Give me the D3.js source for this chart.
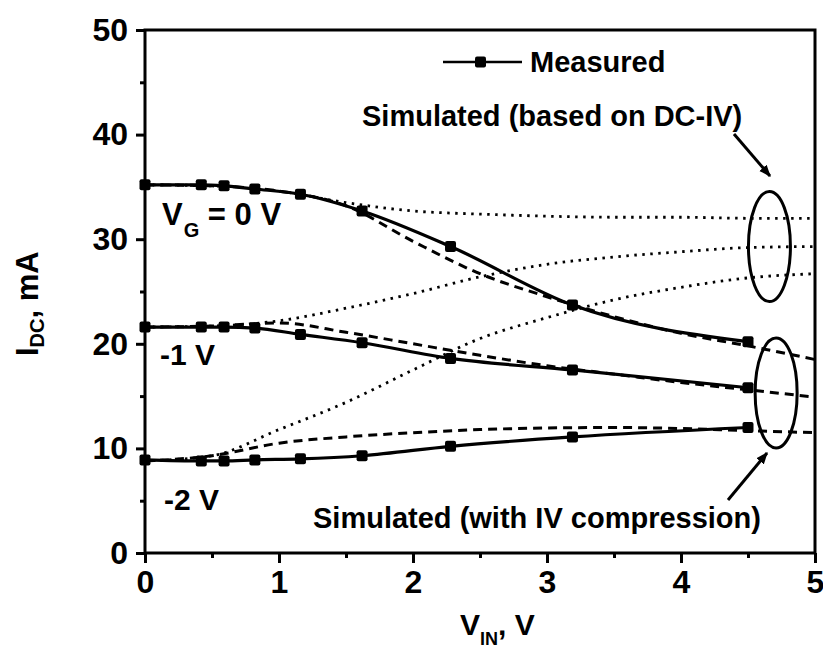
<!DOCTYPE html>
<html>
<head>
<meta charset="utf-8">
<script src="https://cdn.jsdelivr.net/npm/d3@7"></script>
<style>
body { margin: 0; background: #fff; }
svg { font-family: "Liberation Sans", Arial, sans-serif; font-weight: bold; }
</style>
</head>
<body>
<svg id="chart" width="823" height="651"></svg>
<script>
// measured points
const vin = [0, 0.42, 0.59, 0.82, 1.16, 1.62, 2.28, 3.19, 4.5]
const meas0 = [35.2, 35.2, 35.1, 34.8, 34.3, 32.7, 29.3, 23.7, 20.2]
const meas1 = [21.6, 21.6, 21.6, 21.5, 20.9, 20.1, 18.6, 17.5, 15.8]
const meas2 = [8.9, 8.8, 8.8, 8.9, 9.0, 9.3, 10.2, 11.1, 12.0]

// simulated curves
const simX = [0, 0.5, 1.0, 1.5, 2.0, 2.5, 3.0, 3.5, 4.0, 4.5, 5.0]
const dc0 = [35.2, 35.1, 34.6, 33.5, 32.7, 32.4, 32.2, 32.1, 32.1, 32.0, 32.0]
const dc1 = [21.6, 21.7, 22.2, 23.4, 24.8, 26.4, 27.6, 28.3, 28.8, 29.2, 29.3]
const dc2 = [8.8, 9.3, 11.8, 14.4, 17.5, 20.5, 22.5, 24.2, 25.4, 26.3, 26.7]
const cp0 = [35.2, 35.1, 34.6, 33.2, 29.8, 26.7, 24.5, 22.6, 21.0, 19.8, 18.5]
const cp1 = [21.6, 21.7, 22.0, 21.1, 20.0, 18.9, 17.9, 17.1, 16.3, 15.6, 14.9]
const cp2 = [8.8, 9.3, 10.5, 11.1, 11.5, 11.8, 11.95, 12.0, 11.9, 11.7, 11.5]

const xTicks = [0, 1, 2, 3, 4, 5]
const yTicks = [0, 10, 20, 30, 40, 50]

const svg = d3.select('#chart')

const x = d3.scaleLinear().domain([0, 5]).range([145, 815])
const y = d3.scaleLinear().domain([0, 50]).range([553, 30])

const line = d3.line()
    .x(d => x(d[0]))
    .y(d => y(d[1]))
    .curve(d3.curveMonotoneX)

// axes
const gx = svg.append('g').attr('transform', 'translate(0,553)')
gx.call(d3.axisBottom(x).tickValues(xTicks).tickFormat(d3.format('d')).tickSize(10).tickPadding(7).tickSizeOuter(0))
gx.append('g').call(d3.axisBottom(x).tickValues(d3.range(0.5, 5, 1)).tickSize(5).tickFormat(''))
const gy = svg.append('g').attr('transform', 'translate(145,0)')
gy.call(d3.axisLeft(y).tickValues(yTicks).tickFormat(d3.format('d')).tickSize(9).tickPadding(8).tickSizeOuter(0))
gy.append('g').call(d3.axisLeft(y).tickValues(d3.range(5, 50, 10)).tickSize(5).tickFormat(''))

svg.selectAll('.domain').remove()
svg.selectAll('.tick line').attr('stroke', '#000').attr('stroke-width', 3)
svg.selectAll('.tick text')
    .attr('font-size', 32)
    .attr('font-family', '"Liberation Sans", Arial, sans-serif')
    .attr('font-weight', 'bold')
    .attr('fill', '#000')

svg.append('rect')
    .attr('x', x(0)).attr('y', y(50))
    .attr('width', x(5) - x(0)).attr('height', y(0) - y(50))
    .attr('fill', 'none').attr('stroke', '#000').attr('stroke-width', 3)

// simulated, dotted
;[dc0, dc1, dc2].forEach(s => {
    svg.append('path')
        .attr('d', line(simX.map((v, i) => [v, s[i]])))
        .attr('fill', 'none').attr('stroke', '#000')
        .attr('stroke-width', 2.8).attr('stroke-dasharray', '2.5,5.5')
})
// simulated, dashed
;[cp0, cp1, cp2].forEach(s => {
    svg.append('path')
        .attr('d', line(simX.map((v, i) => [v, s[i]])))
        .attr('fill', 'none').attr('stroke', '#000')
        .attr('stroke-width', 3).attr('stroke-dasharray', '9,6')
})
// measured
;[meas0, meas1, meas2].forEach(s => {
    const pts = vin.map((v, i) => [v, s[i]])
    svg.append('path')
        .attr('d', line(pts))
        .attr('fill', 'none').attr('stroke', '#000').attr('stroke-width', 3.2)
    svg.append('g').selectAll('rect')
        .data(pts)
        .join('rect')
        .attr('x', d => x(d[0]) - 5.5)
        .attr('y', d => y(d[1]) - 5.5)
        .attr('width', 11).attr('height', 11).attr('rx', 2)
        .attr('fill', '#000')
})

// legend
svg.append('line').attr('x1', 443).attr('x2', 522).attr('y1', 62).attr('y2', 62)
    .attr('stroke', '#000').attr('stroke-width', 2.5)
svg.append('rect').attr('x', 475).attr('y', 56.5).attr('width', 11).attr('height', 11).attr('rx', 2)
svg.append('text').attr('x', 530).attr('y', 72).attr('font-size', 29).text('Measured')

// annotations
svg.append('text').attr('x', 362).attr('y', 126).attr('font-size', 29).text('Simulated (based on DC-IV)')
svg.append('text').attr('x', 313).attr('y', 528).attr('font-size', 29).text('Simulated (with IV compression)')

const vg0 = svg.append('text').attr('x', 162).attr('y', 225).attr('font-size', 31)
vg0.append('tspan').text('V')
vg0.append('tspan').attr('font-size', 20).attr('dy', 12).attr('dx', 1).text('G')
vg0.append('tspan').attr('dy', -12).text(' = 0 V')
svg.append('text').attr('x', 160).attr('y', 365).attr('font-size', 30).text('-1 V')
svg.append('text').attr('x', 164).attr('y', 510).attr('font-size', 30).text('-2 V')

// ellipses around the curve ends
svg.append('ellipse').attr('cx', x(4.66)).attr('cy', y(29.3)).attr('rx', 21).attr('ry', 55)
    .attr('fill', 'none').attr('stroke', '#000').attr('stroke-width', 3)
svg.append('ellipse').attr('cx', x(4.71)).attr('cy', y(15.3)).attr('rx', 21).attr('ry', 55)
    .attr('fill', 'none').attr('stroke', '#000').attr('stroke-width', 3)

// arrows
const defs = svg.append('defs')
defs.append('marker').attr('id', 'ah')
    .attr('viewBox', '0 0 10 10').attr('refX', 9).attr('refY', 5)
    .attr('markerWidth', 4).attr('markerHeight', 4).attr('orient', 'auto')
    .append('path').attr('d', 'M0,1 L10,5 L0,9 Z').attr('fill', '#000')
svg.append('line').attr('x1', 734).attr('y1', 134).attr('x2', 770).attr('y2', 176)
    .attr('stroke', '#000').attr('stroke-width', 3).attr('marker-end', 'url(#ah)')
svg.append('line').attr('x1', 728).attr('y1', 500).attr('x2', 767).attr('y2', 453)
    .attr('stroke', '#000').attr('stroke-width', 3).attr('marker-end', 'url(#ah)')

// axis titles
const xt = svg.append('text').attr('x', 460).attr('y', 635).attr('font-size', 30)
xt.append('tspan').text('V')
xt.append('tspan').attr('font-size', 18).attr('dy', 10).text('IN')
xt.append('tspan').attr('dy', -10).text(', V')

const yt = svg.append('text').attr('transform', 'translate(38,356) rotate(-90)').attr('font-size', 31)
yt.append('tspan').text('I')
yt.append('tspan').attr('font-size', 20).attr('dy', 6).text('DC')
yt.append('tspan').attr('dy', -6).text(', mA')
</script>
</body>
</html>
